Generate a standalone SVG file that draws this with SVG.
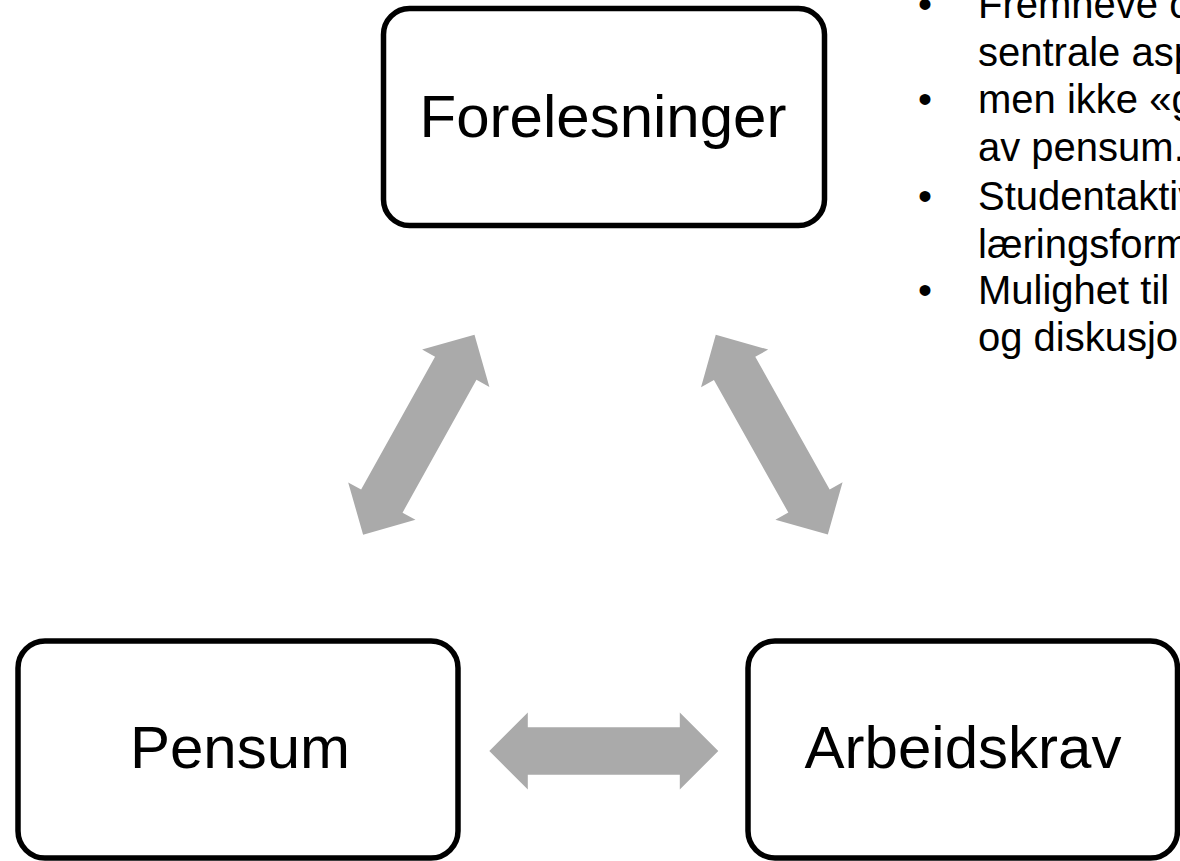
<svg xmlns="http://www.w3.org/2000/svg" width="1180" height="861" viewBox="0 0 1180 861">
  <defs>
    <style>
      .box { fill: #ffffff; stroke: #000000; stroke-width: 5.5; }
      .label { font-family: "Liberation Sans", Arial, sans-serif; font-size: 60px; fill: #000000; text-anchor: middle; }
      .bullet { font-family: "Liberation Sans", Arial, sans-serif; font-size: 40px; fill: #000000; }
      .arrow { fill: #AAAAAA; stroke: none; }
    </style>
    <path id="dblArrow" d="M -114.5 0 L -76 -38.5 L -76 -23.7 L 76 -23.7 L 76 -38.5 L 114.5 0 L 76 38.5 L 76 23.7 L -76 23.7 L -76 38.5 Z"/>
  </defs>
  <rect width="1180" height="861" fill="#ffffff"/>

  <g id="connectors">
    <use href="#dblArrow" class="arrow" transform="translate(418.8 434.7) rotate(-60.9)"/>
    <use href="#dblArrow" class="arrow" transform="translate(771.8 434.7) rotate(60.7)"/>
    <use href="#dblArrow" class="arrow" transform="translate(603.8 751)"/>
  </g>

  <g id="node-forelesninger">
    <rect class="box" x="383.5" y="8.5" width="441" height="217" rx="26" ry="26"/>
    <text class="label" x="603" y="137">Forelesninger</text>
  </g>

  <g id="node-pensum">
    <rect class="box" x="18" y="641" width="440" height="217" rx="27" ry="27"/>
    <text class="label" x="240" y="768">Pensum</text>
  </g>

  <g id="node-arbeidskrav">
    <rect class="box" x="748" y="641" width="429.5" height="217" rx="27" ry="27"/>
    <text class="label" x="963" y="768">Arbeidskrav</text>
  </g>

  <g id="bullets">
    <text class="bullet" x="918" y="18">•</text>
    <text class="bullet" x="978" y="18">Fremneve o</text>
    <text class="bullet" x="978" y="66">sentrale asp</text>
    <text class="bullet" x="918" y="113">•</text>
    <text class="bullet" x="978" y="113">men ikke «g</text>
    <text class="bullet" x="978" y="161">av pensum.</text>
    <text class="bullet" x="918" y="210">•</text>
    <text class="bullet" x="978" y="210">Studentaktiv</text>
    <text class="bullet" x="978" y="258">læringsform</text>
    <text class="bullet" x="918" y="304">•</text>
    <text class="bullet" x="978" y="304">Mulighet til</text>
    <text class="bullet" x="978" y="351">og diskusjon</text>
  </g>
</svg>
